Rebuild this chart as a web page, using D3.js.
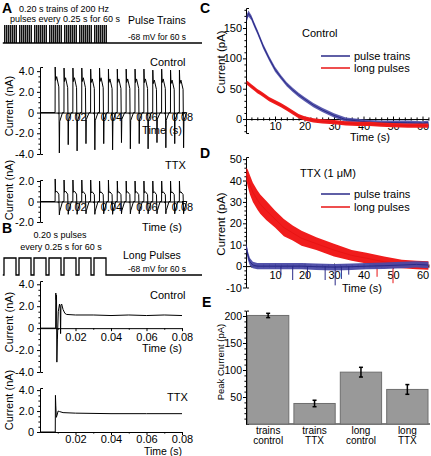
<!DOCTYPE html>
<html><head><meta charset="utf-8">
<script src="https://cdn.jsdelivr.net/npm/d3@7"></script>
<style>
body{margin:0;background:#fff}
svg{display:block;font-family:"Liberation Sans",Arial,sans-serif}
</style></head><body>
<svg id="c" width="431" height="456"></svg>
<script>
// ---------- DATA ----------
// Stimulus protocol (schematic, seconds)
const trainStarts = [0, 0.25, 0.5, 0.75, 1.0, 1.25, 1.5];
const trainDur = 0.20;
const protocolEnd = 3.3;
const holdMV = -68, stepMV = 0;

// Panel A: 200 Hz pulse-train responses (s, nA)
const spikeOnsets = [0.0085,0.0135,0.0185,0.0235,0.0285,0.0335,0.0385,0.0435,0.0485,0.0535,0.0585,0.0635,0.0685,0.0735,0.0785];
const ctrlPeaks     = [4.4,4.3,4.3,4.3,4.2,4.3,4.2,4.2,4.2,4.2,4.2,4.1,4.2,4.1,4.1];
const ctrlShoulders = [3.1,3.0,3.0,3.0,2.9,3.0,2.9,2.9,2.9,2.9,2.9,2.8,2.9,2.8,2.8];
const ctrlTroughs   = [-3.9,-3.1,-3.7,-3.0,-3.6,-3.0,-3.6,-2.9,-3.5,-3.0,-3.5,-2.9,-3.4,-3.0,-3.4];
const ttxPeaks      = [2.2,2.1,2.1,2.1,2.1,2.0,2.1,2.0,2.0,2.0,2.0,2.0,2.0,2.0,2.0];
const ttxShoulders  = [0.9,0.9,0.9,0.85,0.85,0.85,0.85,0.85,0.85,0.85,0.85,0.85,0.85,0.85,0.85];
const ttxTroughs    = [-1.3,-1.25,-1.25,-1.2,-1.25,-1.2,-1.25,-1.2,-1.2,-1.2,-1.2,-1.2,-1.2,-1.2,-1.2];

// Panel B: long-pulse responses (s, nA)
const longCtrlT = [0,0.0088,0.0089,0.0091,0.0093,0.0095,0.0098,0.0103,0.0110,0.0114,0.0116,0.0118,0.0122,0.0130,0.0140,0.0150,0.02,0.03,0.04,0.05,0.06,0.07,0.08];
const longCtrlV = [0,0,3.2,2.6,3.0,-3.1,-1.0,1.5,2.2,1.8,-0.5,2.1,2.2,1.7,1.35,1.25,1.2,1.2,1.15,1.2,1.15,1.2,1.15];
const longTtxT = [0,0.0086,0.0087,0.0089,0.0092,0.0096,0.0102,0.011,0.013,0.02,0.04,0.06,0.08];
const longTtxV = [0,0,3.5,2.5,1.4,1.6,2.0,1.95,1.85,1.8,1.75,1.75,1.75];

// Panel C: Control tail currents (s, pA)
const cTime   = [0.4,1,2,3,4,5,6,8,10,12,14,16,18,20,23,26,30,34,38,42,46,50,55,60,62];
const cTrains = [166,174,167,155,144,132,120,100,82,69,57,48,40,33,23,15,6,-1,-3,-5,-6,-6,-6,-7,-6];
const cTrainsNoise = [6,5,4,4,4,4,4,4,4,3.5,3.5,3.5,3.5,3.5,3.5,3.5,3.5,3.5,3.5,3.5,3.5,3.5,3.5,3.5,3.5];
const cLong   = [60,58,54,50,46,43,40,33,28,23,17,11,5,1,-2,-4,-5,-7,-8,-8,-9,-10,-11,-11,-11];
const cLongNoise = [3.5,3.5,3.5,3.5,3.5,3.5,3.5,3.5,3.5,3.5,3.5,3.5,3.5,3.5,3.5,3.5,3.5,3.5,3.5,3.5,3.5,3.5,3.5,3.5,3.5];

// Panel D: TTX tail currents (s, pA)
const dTime   = [0.3,0.8,1.5,2.5,4,5,7,10,13,16,19,24,30,36,41,47,53,58,62];
const dLong   = [43,41,38,34.5,31,29,26,22,18,15.5,13,10.5,7.5,5,3.7,2,1,0.5,0.3];
const dLongNoise = [3,4,4.5,4.5,4.5,4.5,4.5,4,4,3.5,3.5,3,3,2.5,2.5,2.5,2,2,2];
const dTrains = [9,5,2,0.5,0,0,0,0,0,0,0,-0.3,-0.5,-0.3,0,0.2,0.5,0.8,0.5];
const dTrainsNoise = [2,2,1.8,1.5,1.5,1.5,1.5,1.5,1.5,1.5,1.5,1.5,1.5,1.5,1.5,1.5,1.5,1.5,1.5];
const dTrainsDips = [[12,-4],[16,-6.5],[21,-5.5],[27,-6.5],[30.4,-9],[32.5,-6],[35,-4]];
const dLongDips = [[44.6,-5],[50,-8]];

// Panel E: peak currents (pA)
const eCats = [["trains","control"],["trains","TTX"],["long","control"],["long","TTX"]];
const eVals = [201, 38, 96, 64];
const eErrs = [4, 6, 9, 9];

// ---------- DRAWING ----------
const svg = d3.select("#c");
const BLUE = "#2a2a88", BLUE_BAND = "#4a4aa6", RED = "#e81414", RED_BAND = "#f01c1c";

function txt(x, y, s, o = {}) {
  return svg.append("text").attr("x", x).attr("y", y).text(s)
    .attr("font-size", o.size || 11).attr("text-anchor", o.anchor || "start")
    .attr("font-weight", o.weight || "normal").attr("fill", "#000");
}
function vtxt(x, y, s, size) {
  return svg.append("text").attr("transform", `translate(${x},${y}) rotate(-90)`)
    .attr("text-anchor", "middle").attr("font-size", size).text(s);
}
function styleAxis(g, size) {
  g.attr("font-family", null).attr("font-size", size);
  g.selectAll("path,line").attr("stroke", "#000").attr("stroke-width", 1);
  g.selectAll("text").attr("fill", "#000");
}
function fmtN(d) { return d === 0 ? "0" : d.toFixed(1); }

function yAxis(scale, x, ticks, minor, fmt, size, pad) {
  const g = svg.append("g").attr("transform", `translate(${x},0)`)
    .call(d3.axisLeft(scale).tickValues(ticks).tickFormat(fmt).tickSize(3).tickSizeOuter(-3).tickPadding(pad));
  styleAxis(g, size);
  const m = svg.append("g").attr("transform", `translate(${x},0)`)
    .call(d3.axisLeft(scale).tickValues(minor).tickFormat("").tickSize(1.6));
  m.select(".domain").remove();
  styleAxis(m, size);
}
function xAxis(scale, y, ticks, minor, fmt, size, pad, cross) {
  const g = svg.append("g").attr("transform", `translate(0,${y})`)
    .call(d3.axisBottom(scale).tickValues(ticks).tickFormat(fmt).tickSize(3).tickSizeOuter(0).tickPadding(pad));
  styleAxis(g, size);
  if (cross) g.selectAll(".tick line").attr("y1", -2.5).attr("y2", 2.5);
  if (minor) {
    const m = svg.append("g").attr("transform", `translate(0,${y})`)
      .call(d3.axisBottom(scale).tickValues(minor).tickFormat("").tickSize(1.6));
    m.select(".domain").remove();
    styleAxis(m, size);
    if (cross) m.selectAll(".tick line").attr("y1", -1.6).attr("y2", 1.6);
  }
}
function range(a, b, s, skip) {
  const out = [];
  for (let v = a; v <= b + 1e-9; v += s) {
    const r = Math.round(v * 1000) / 1000;
    if (!skip || !skip.some(k => Math.abs(k - r) < 1e-9)) out.push(r);
  }
  return out;
}

// Panel letters
txt(2, 13, "A", {size: 14, weight: "bold"});
txt(2, 233, "B", {size: 14, weight: "bold"});
txt(200, 13, "C", {size: 14, weight: "bold"});
txt(200, 158, "D", {size: 14, weight: "bold"});
txt(202, 307, "E", {size: 14, weight: "bold"});

// ---- Protocol A ----
const protoX = d3.scaleLinear().domain([0, protocolEnd]).range([4, 202]);
const pyA = d3.scaleLinear().domain([holdMV, stepMV]).range([43, 25]);
trainStarts.forEach(s => {
  svg.append("rect").attr("x", protoX(s)).attr("y", pyA(stepMV))
    .attr("width", protoX(s + trainDur) - protoX(s)).attr("height", pyA(holdMV) - pyA(stepMV))
    .attr("fill", "#888");
  d3.range(7).forEach(i => {
    const t = s + i * trainDur / 6;
    const x = Math.round(protoX(t)) + 0.5;
    svg.append("line").attr("x1", x).attr("x2", x)
      .attr("y1", pyA(holdMV)).attr("y2", pyA(stepMV)).attr("stroke", "#111").attr("stroke-width", 1);
  });
});
svg.append("line").attr("x1", protoX(-0.02)).attr("x2", protoX(protocolEnd))
  .attr("y1", pyA(holdMV)).attr("y2", pyA(holdMV)).attr("stroke", "#000").attr("stroke-width", 1.3);
txt(64, 12, "0.20 s trains of 200 Hz", {size: 9, anchor: "middle"});
txt(65, 22, "pulses every 0.25 s for 60 s", {size: 9, anchor: "middle"});
txt(128, 24, "Pulse Trains", {size: 10.5});
txt(128, 40, "-68 mV for 60 s", {size: 8.5});

// ---- Protocol B ----
const pyB = d3.scaleLinear().domain([holdMV, stepMV]).range([275, 258]);
const bPts = [[-0.02, holdMV]];
trainStarts.forEach(s => { bPts.push([s, holdMV], [s, stepMV], [s + trainDur, stepMV], [s + trainDur, holdMV]); });
bPts.push([protocolEnd, holdMV]);
svg.append("path").attr("d", d3.line().x(d => protoX(d[0])).y(d => pyB(d[1]))(bPts))
  .attr("fill", "none").attr("stroke", "#000").attr("stroke-width", 1.3);
txt(60, 238, "0.20 s pulses", {size: 9, anchor: "middle"});
txt(61, 250, "every 0.25 s for 60 s", {size: 9, anchor: "middle"});
txt(123, 259, "Long Pulses", {size: 10.5});
txt(128, 272, "-68 mV for 60 s", {size: 8.5});

// ---- Panel A traces ----
const xA = d3.scaleLinear().domain([0, 0.08]).range([40, 182]);
function spikeTrace(peaks, shoulders, troughs, recov) {
  const pts = [[0, 0]];
  spikeOnsets.forEach((t0, i) => {
    const S = shoulders[i], N = troughs[i];
    pts.push([t0, 0], [t0 + 0.00005, peaks[i]], [t0 + 0.0003, S],
      [t0 + 0.0009, S * 1.12], [t0 + 0.0021, S * 0.8], [t0 + 0.0024, N],
      [t0 + 0.0026, N * recov], [t0 + 0.0042, 0]);
  });
  pts.push([0.08, 0]);
  return pts;
}
const line = (xs, ys) => d3.line().x(d => xs(d[0])).y(d => ys(d[1]));

// A control
const yA1 = d3.scaleLinear().domain([-4, 4.4]).range([154, 67]);
yAxis(yA1, 40, [-4, -2, 0, 2, 4], range(-3.5, 4, 0.5, [-4, -2, 0, 2, 4]), fmtN, 11, 3);
xAxis(xA, yA1(0), [0.02, 0.04, 0.06, 0.08], [0.01, 0.03, 0.05, 0.07], d => d.toFixed(2), 11, -2);
svg.append("path").attr("d", line(xA, yA1)(spikeTrace(ctrlPeaks, ctrlShoulders, ctrlTroughs, 0.22)))
  .attr("fill", "none").attr("stroke", "#000").attr("stroke-width", 1);
txt(150, 66, "Control", {size: 11});
txt(182, 134, "Time (s)", {size: 11, anchor: "end"});
vtxt(13, 106, "Current (nA)", 11);

// A TTX
const yA2 = d3.scaleLinear().domain([-2, 2.1]).range([222, 180]);
yAxis(yA2, 40, [-2, 0, 2], range(-1.5, 2, 0.5, [-2, 0, 2]), fmtN, 11, 3);
xAxis(xA, yA2(0), [0.02, 0.04, 0.06, 0.08], [0.01, 0.03, 0.05, 0.07], d => d.toFixed(2), 11, -1);
svg.append("path").attr("d", line(xA, yA2)(spikeTrace(ttxPeaks, ttxShoulders, ttxTroughs, 0.75)))
  .attr("fill", "none").attr("stroke", "#000").attr("stroke-width", 1);
txt(165, 169, "TTX", {size: 11});
txt(182, 231, "Time (s)", {size: 11, anchor: "end"});
vtxt(13, 190, "Current (nA)", 11);

// ---- Panel B traces ----
const yB1 = d3.scaleLinear().domain([-4, 4.3]).range([372, 281]);
yAxis(yB1, 40, [-4, -2, 0, 2, 4], range(-3.5, 4, 0.5, [-4, -2, 0, 2, 4]), fmtN, 11, 3);
xAxis(xA, yB1(0), [0.02, 0.04, 0.06, 0.08], [0.01, 0.03, 0.05, 0.07], d => d.toFixed(2), 11, 2);
svg.append("path").attr("d", line(xA, yB1)(longCtrlT.map((t, i) => [t, longCtrlV[i]])))
  .attr("fill", "none").attr("stroke", "#000").attr("stroke-width", 1);
txt(150, 299, "Control", {size: 11});
txt(182, 352, "Time (s)", {size: 11, anchor: "end"});
vtxt(13, 322, "Current (nA)", 11);

const yB2 = d3.scaleLinear().domain([0, 4.2]).range([432, 388]);
yAxis(yB2, 40, [0, 2, 4], range(0.5, 4, 0.5, [2, 4]), fmtN, 11, 3);
xAxis(xA, yB2(0), [0.02, 0.04, 0.06, 0.08], [0.01, 0.03, 0.05, 0.07], d => d.toFixed(2), 11, 0.5);
svg.append("path").attr("d", line(xA, yB2)(longTtxT.map((t, i) => [t, longTtxV[i]])))
  .attr("fill", "none").attr("stroke", "#000").attr("stroke-width", 1);
txt(167, 401, "TTX", {size: 11});
txt(182, 455, "Time (s)", {size: 10.5, anchor: "end"});
vtxt(13, 400, "Current (nA)", 11);

// ---- Panel C ----
const xC = d3.scaleLinear().domain([0, 62]).range([245.5, 428.4]);
const yC = d3.scaleLinear().domain([-23, 183]).range([133, 8]);
yAxis(yC, 246, [0, 50, 100, 150], range(-20, 180, 10, [0, 50, 100, 150]), d => d, 11, 1);
xAxis(xC, yC(0), [10, 20, 30, 40, 50, 60], range(2, 62, 2, [10, 20, 30, 40, 50, 60]), d => d, 11, 0, true);
function band(xs, ys, T, V, N, fill, op, lineCol) {
  const area = d3.area().x((d, i) => xs(T[i])).y0((d, i) => ys(V[i] - N[i])).y1((d, i) => ys(V[i] + N[i]));
  svg.append("path").attr("d", area(V)).attr("fill", fill).attr("opacity", op);
  svg.append("path").attr("d", d3.line().x((d, i) => xs(T[i])).y(d => ys(d))(V))
    .attr("fill", "none").attr("stroke", lineCol).attr("stroke-width", 1);
}
band(xC, yC, cTime, cTrains, cTrainsNoise, BLUE_BAND, 0.9, BLUE);
band(xC, yC, cTime, cLong, cLongNoise, RED_BAND, 1, RED);
txt(302, 37, "Control", {size: 11});
svg.append("line").attr("x1", 321).attr("x2", 350).attr("y1", 56).attr("y2", 56).attr("stroke", BLUE).attr("stroke-width", 1.5);
txt(354, 60, "pulse trains", {size: 11});
svg.append("line").attr("x1", 321).attr("x2", 350).attr("y1", 68).attr("y2", 68).attr("stroke", RED).attr("stroke-width", 1.5);
txt(354, 72, "long pulses", {size: 11});
txt(370, 141, "Time (s)", {size: 11, anchor: "middle"});
vtxt(225, 62, "Current (pA)", 11.5);

// ---- Panel D ----
const xD = xC;
const yD = d3.scaleLinear().domain([-10, 51]).range([287.5, 157]);
yAxis(yD, 246, [-10, 0, 10, 20, 30, 40, 50], range(-8, 50, 2, [0, 10, 20, 30, 40, 50]), d => d, 11, 1);
xAxis(xD, yD(0), [10, 20, 30, 40, 50, 60], range(2, 62, 2, [10, 20, 30, 40, 50, 60]), d => d, 11, 2, true);
band(xD, yD, dTime, dLong, dLongNoise, RED_BAND, 1, RED);
dLongDips.forEach(d => svg.append("line").attr("x1", xD(d[0])).attr("x2", xD(d[0]))
  .attr("y1", yD(0)).attr("y2", yD(d[1])).attr("stroke", RED).attr("stroke-width", 1));
band(xD, yD, dTime, dTrains, dTrainsNoise, BLUE_BAND, 0.95, BLUE);
dTrainsDips.forEach(d => svg.append("line").attr("x1", xD(d[0])).attr("x2", xD(d[0]))
  .attr("y1", yD(0)).attr("y2", yD(d[1])).attr("stroke", BLUE).attr("stroke-width", 1));
txt(300, 177, "TTX (1 \u03bcM)", {size: 11});
svg.append("line").attr("x1", 321).attr("x2", 350).attr("y1", 194).attr("y2", 194).attr("stroke", BLUE).attr("stroke-width", 1.5);
txt(354, 198, "pulse trains", {size: 11});
svg.append("line").attr("x1", 321).attr("x2", 350).attr("y1", 207).attr("y2", 207).attr("stroke", RED).attr("stroke-width", 1.5);
txt(354, 211, "long pulses", {size: 11});
txt(362, 292, "Time (s)", {size: 11, anchor: "middle"});
vtxt(225, 224, "Current (pA)", 11.5);

// ---- Panel E ----
const yE = d3.scaleLinear().domain([0, 210]).range([424, 310.6]);
const xE = d3.scaleBand().domain(d3.range(eVals.length)).range([247.5, 428]).paddingInner(0.11).paddingOuter(0);
yAxis(yE, 246, [50, 100, 150, 200], range(10, 210, 10, [50, 100, 150, 200]), d => d, 10.5, 1);
svg.append("line").attr("x1", 246).attr("x2", 430).attr("y1", yE(0)).attr("y2", yE(0)).attr("stroke", "#000");
eVals.forEach((v, i) => {
  svg.append("rect").attr("x", xE(i)).attr("y", yE(v)).attr("width", xE.bandwidth())
    .attr("height", yE(0) - yE(v)).attr("fill", "#999").attr("stroke", "#6e6e6e").attr("stroke-width", 1);
  const cx = xE(i) + xE.bandwidth() / 2;
  const e = svg.append("g").attr("stroke", "#000").attr("stroke-width", 1.5);
  e.append("line").attr("x1", cx).attr("x2", cx).attr("y1", yE(v - eErrs[i])).attr("y2", yE(v + eErrs[i]));
  e.append("line").attr("x1", cx - 2).attr("x2", cx + 2).attr("y1", yE(v - eErrs[i])).attr("y2", yE(v - eErrs[i]));
  e.append("line").attr("x1", cx - 2).attr("x2", cx + 2).attr("y1", yE(v + eErrs[i])).attr("y2", yE(v + eErrs[i]));
  txt(cx, 434, eCats[i][0], {size: 10, anchor: "middle"});
  txt(cx, 444, eCats[i][1], {size: 10, anchor: "middle"});
});
vtxt(224, 362, "Peak Current (pA)", 9.5);
</script>
</body></html>
